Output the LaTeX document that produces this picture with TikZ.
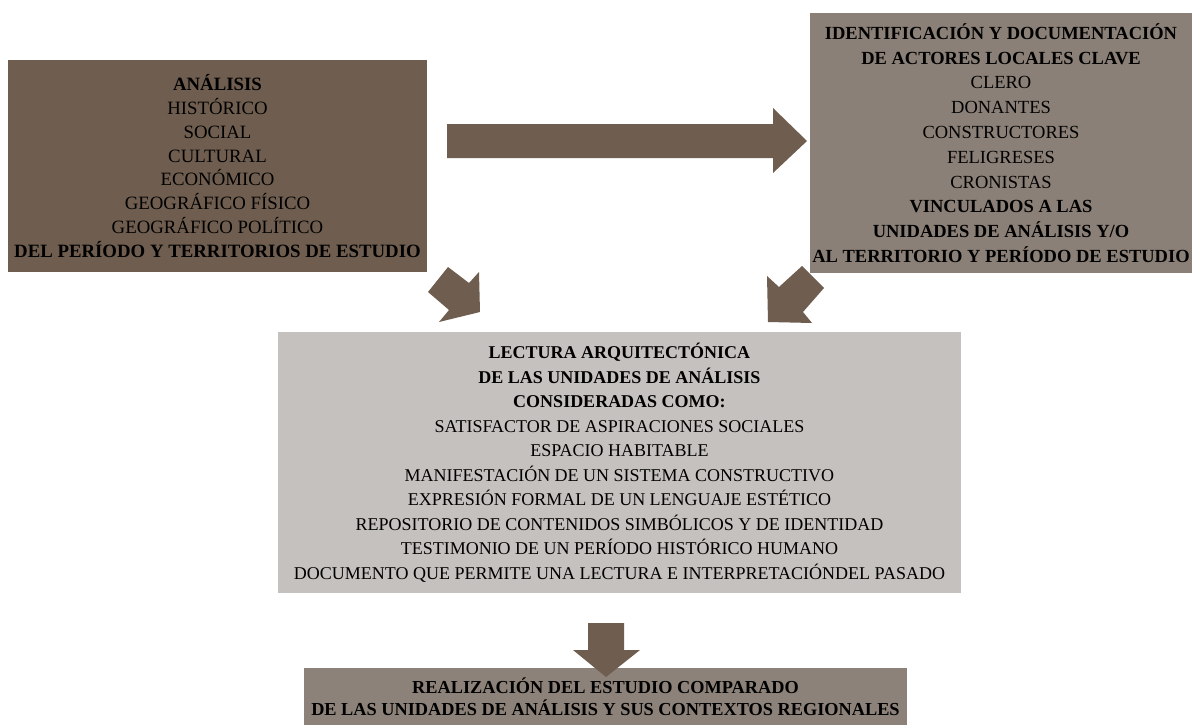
\documentclass[tikz,border=0pt]{standalone}
\usepackage{fontspec}
\setmainfont{Liberation Serif}
\definecolor{brownA}{HTML}{6F5E4F}
\definecolor{greyB}{HTML}{8B8077}
\definecolor{greyC}{HTML}{C5C1BE}
\definecolor{greyD}{HTML}{8C8279}
\tikzset{
  box/.style={rectangle, inner sep=0pt, align=center, text=black},
  blockarrow/.style={fill=brownA, draw=none},
}
\begin{document}
\begin{tikzpicture}[x=1pt,y=-1pt]
\useasboundingbox (0,0) rectangle (1192,725);
\fill[white] (0,0) rectangle (1192,725);

% boxes
\node[box, fill=brownA, minimum width=419pt, minimum height=212pt,
      font=\fontsize{18.8}{23.8}\selectfont] (ana) at (217.5,166)
  {\textbf{ANÁLISIS}\\HISTÓRICO\\SOCIAL\\CULTURAL\\ECONÓMICO\\GEOGRÁFICO FÍSICO\\GEOGRÁFICO POLÍTICO\\\textbf{DEL PERÍODO Y TERRITORIOS DE ESTUDIO}};

\node[box, fill=greyB, minimum width=382pt, minimum height=260pt,
      font=\fontsize{18.5}{24.8}\selectfont] (act) at (1001,143)
  {\textbf{IDENTIFICACIÓN Y DOCUMENTACIÓN}\\\textbf{DE ACTORES LOCALES CLAVE}\\CLERO\\DONANTES\\CONSTRUCTORES\\FELIGRESES\\CRONISTAS\\\textbf{VINCULADOS A LAS}\\\textbf{UNIDADES DE ANÁLISIS Y/O}\\\textbf{AL TERRITORIO Y PERÍODO DE ESTUDIO}};

\node[box, fill=greyC, minimum width=683pt, minimum height=261pt,
      font=\fontsize{18}{24.5}\selectfont] (lec) at (619.5,462.5)
  {\textbf{LECTURA ARQUITECTÓNICA}\\\textbf{DE LAS UNIDADES DE ANÁLISIS}\\\textbf{CONSIDERADAS COMO:}\\SATISFACTOR DE ASPIRACIONES SOCIALES\\ESPACIO HABITABLE\\MANIFESTACIÓN DE UN SISTEMA CONSTRUCTIVO\\EXPRESIÓN FORMAL DE UN LENGUAJE ESTÉTICO\\REPOSITORIO DE CONTENIDOS SIMBÓLICOS Y  DE IDENTIDAD\\TESTIMONIO DE UN PERÍODO HISTÓRICO HUMANO\\DOCUMENTO QUE PERMITE UNA LECTURA E INTERPRETACIÓNDEL PASADO};

\node[box, fill=greyD, minimum width=603pt, minimum height=57pt,
      font=\fontsize{18.3}{22}\selectfont] (est) at (605.5,696.5)
  {\textbf{REALIZACIÓN DEL ESTUDIO COMPARADO}\\\textbf{DE LAS UNIDADES DE ANÁLISIS Y SUS CONTEXTOS REGIONALES}};

% block arrows
\fill[blockarrow] (447,124) -- (773,124) -- (773,108) -- (807,141) -- (773,173) -- (773,158) -- (447,158) -- cycle;
\fill[blockarrow] (428,292) -- (448,267) -- (469,283) -- (479,272) -- (480,312) -- (439,322) -- (449,310) -- cycle;
\fill[blockarrow] (802,266) -- (824,288) -- (803,312) -- (812,323) -- (768,322) -- (767,276) -- (779,287) -- cycle;
\fill[blockarrow] (588,623) -- (624,623) -- (624,650) -- (640,650) -- (606,677) -- (573,650) -- (588,650) -- cycle;
\end{tikzpicture}
\end{document}
